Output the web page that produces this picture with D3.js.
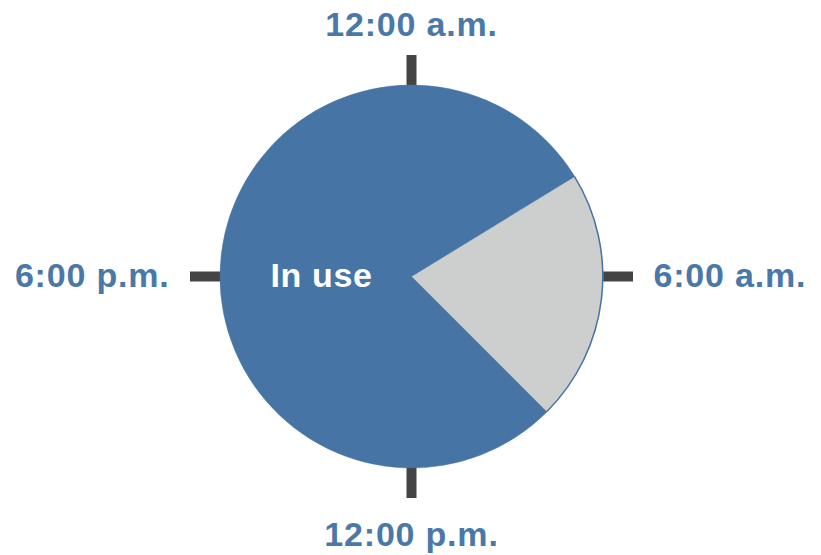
<!DOCTYPE html>
<html>
<head>
<meta charset="utf-8">
<script src="https://cdn.jsdelivr.net/npm/d3@7"></script>
<style>
  html, body { margin: 0; padding: 0; background: #ffffff; }
  svg { display: block; }
  text { font-family: "Liberation Sans", Arial, Helvetica, sans-serif; font-weight: bold; }
</style>
</head>
<body>
<svg id="chart" width="821" height="555"></svg>
<script>
// ---- data ----
const segmentNames = ["Idle", "In use"];
const segmentHours = [5.1, 18.9];      // hours in each state
const idleStartHour = 3.9;             // clock hour where idle starts
const tickHours = [0, 6, 12, 18];
const tickLabels = ["12:00 a.m.", "6:00 a.m.", "12:00 p.m.", "6:00 p.m."];
const centerLabel = "In use";

// ---- layout ----
const W = 821, H = 555;
const cx = 411.5, cy = 276.5, R = 191.5;
const colors = { "Idle": "#cdcfce", "In use": "#4674a5" };
const labelColor = "#4a78a8";

const svg = d3.select("#chart");
const g = svg.append("g").attr("transform", `translate(${cx},${cy})`);

const hourToAngle = d3.scaleLinear().domain([0, 24]).range([0, 2 * Math.PI]);

// ticks
const tickLen = d3.scaleLinear().domain([0, 1]).range([R - 2, R + 30]);
g.selectAll("line.tick")
  .data(tickHours)
  .join("line")
  .attr("class", "tick")
  .attr("x1", d => Math.sin(hourToAngle(d)) * tickLen(0))
  .attr("y1", d => -Math.cos(hourToAngle(d)) * tickLen(0))
  .attr("x2", d => Math.sin(hourToAngle(d)) * tickLen(1))
  .attr("y2", d => -Math.cos(hourToAngle(d)) * tickLen(1))
  .attr("stroke", "#444444")
  .attr("stroke-width", 10);

// pie
const start = hourToAngle(idleStartHour);
const pie = d3.pie().sort(null).startAngle(start).endAngle(start + 2 * Math.PI);
const arcs = pie(segmentHours);
const arc = d3.arc().innerRadius(0).outerRadius(R);

g.selectAll("path.slice")
  .data(arcs)
  .join("path")
  .attr("class", "slice")
  .attr("d", arc)
  .attr("fill", (d, i) => colors[segmentNames[i]])
  .attr("stroke", (d, i) => colors[segmentNames[i]])
  .attr("stroke-width", 0.5);

// blue rim on the idle arc
const rim = d3.arc().innerRadius(R - 1).outerRadius(R + 0.5);
g.append("path")
  .attr("d", rim(arcs[0]))
  .attr("fill", "#4674a5");

// clock labels
const LR = 242;
const fs = 34;
g.selectAll("text.clock")
  .data(tickHours)
  .join("text")
  .attr("class", "clock")
  .attr("x", d => {
    const s = Math.sin(hourToAngle(d));
    return Math.abs(s) < 0.01 ? 0 : s * LR;
  })
  .attr("y", (d) => {
    const c = -Math.cos(hourToAngle(d));
    if (c < -0.5) return -LR + 1;
    if (c > 0.5) return LR + 27;
    return 10.5;
  })
  .attr("text-anchor", d => {
    const s = Math.sin(hourToAngle(d));
    if (Math.abs(s) < 0.01) return "middle";
    return s > 0 ? "start" : "end";
  })
  .attr("font-size", fs)
  .attr("letter-spacing", 0.8)
  .attr("fill", labelColor)
  .text((d, i) => tickLabels[i]);

// center label
g.append("text")
  .attr("x", -90)
  .attr("y", 10.5)
  .attr("text-anchor", "middle")
  .attr("font-size", 34)
  .attr("letter-spacing", 0.6)
  .attr("fill", "#ffffff")
  .text(centerLabel);
</script>
</body>
</html>
